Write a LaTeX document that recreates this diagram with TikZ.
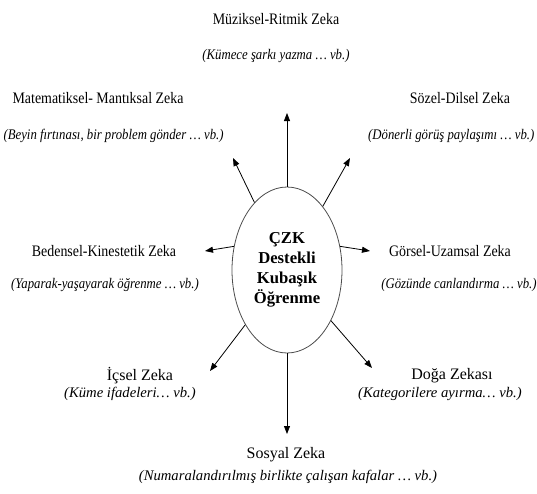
\documentclass[tikz,border=0pt]{standalone}
\usepackage{fontspec}
\setmainfont{Liberation Serif}
\newfontfamily\darfont{Liberation Serif}[FakeStretch=0.87]
\usetikzlibrary{shapes,arrows.meta,positioning,calc}

\begin{document}
\begin{tikzpicture}[x=0.75pt, y=-0.75pt,
    zeka/.style={font=\fontsize{12}{14}\selectfont, inner sep=1pt},
    ornek/.style={font=\fontsize{11}{13}\selectfont\itshape, inner sep=1pt},
    zekaDar/.style={font=\darfont\fontsize{12}{14}\selectfont, inner sep=1pt},
    ornekDar/.style={font=\darfont\fontsize{11}{13}\selectfont\itshape, inner sep=1pt},
    ok/.style={line width=0.6pt, -{Triangle[length=6pt,width=4.5pt]}}]
    \useasboundingbox (0,0) rectangle (537,494);

    % Central ellipse
    \node[ellipse, draw=black!70, line width=0.6pt, minimum width=82.5pt, minimum height=124.5pt,
          inner sep=0pt, align=center, font=\fontsize{12.5}{15}\selectfont\bfseries] (czk) at (287,270)
          {ÇZK\\Destekli\\Kubaşık\\Öğrenme};

    % Intelligences and examples
    \node[zekaDar] (muzik) at (276,19) {Müziksel-Ritmik Zeka};
    \node[ornekDar] (muzikOrnek) at (276,56) {(Kümece şarkı yazma … vb.)};
    \node[zekaDar, anchor=west] (mat) at (11,98) {Matematiksel- Mantıksal Zeka};
    \node[ornekDar, anchor=west] (matOrnek) at (2,136) {(Beyin fırtınası, bir problem gönder … vb.)};
    \node[zekaDar] (sozel) at (460,98) {Sözel-Dilsel Zeka};
    \node[ornekDar, anchor=east] (sozelOrnek) at (536,136) {(Dönerli görüş paylaşımı … vb.)};
    \node[zekaDar] (beden) at (104,251) {Bedensel-Kinestetik Zeka};
    \node[ornekDar] (bedenOrnek) at (105,285) {(Yaparak-yaşayarak öğrenme … vb.)};
    \node[zekaDar] (gorsel) at (450,251) {Görsel-Uzamsal Zeka};
    \node[ornekDar] (gorselOrnek) at (459,285) {(Gözünde canlandırma … vb.)};
    \node[zeka] (icsel) at (140,376) {İçsel Zeka};
    \node[ornek] (icselOrnek) at (130,394) {(Küme ifadeleri… vb.)};
    \node[zeka] (doga) at (452,376) {Doğa Zekası};
    \node[ornek] (dogaOrnek) at (440,394) {(Kategorilere ayırma… vb.)};
    \node[zeka] (sosyal) at (286,455) {Sosyal Zeka};
    \node[ornek] (sosyalOrnek) at (288,477) {(Numaralandırılmış birlikte çalışan kafalar … vb.)};

    % Arrow ends
    \coordinate (ucMuzik) at (287,113);
    \coordinate (ucMat) at (233,158);
    \coordinate (ucSozel) at (350,158);
    \coordinate (ucBeden) at (205,251);
    \coordinate (ucGorsel) at (370,251);
    \coordinate (ucIcsel) at (210,371);
    \coordinate (ucDoga) at (372,368);
    \coordinate (ucSosyal) at (287,434);

    % Arrows
    \draw[ok] (czk.north) -- (ucMuzik);
    \draw[ok] (czk) -- (ucMat);
    \draw[ok] (czk) -- (ucSozel);
    \draw[ok] (czk.156) -- (ucBeden);
    \draw[ok] (czk.24) -- (ucGorsel);
    \draw[ok] (czk) -- (ucIcsel);
    \draw[ok] (czk) -- (ucDoga);
    \draw[ok] (czk.south) -- (ucSosyal);
\end{tikzpicture}
\end{document}
